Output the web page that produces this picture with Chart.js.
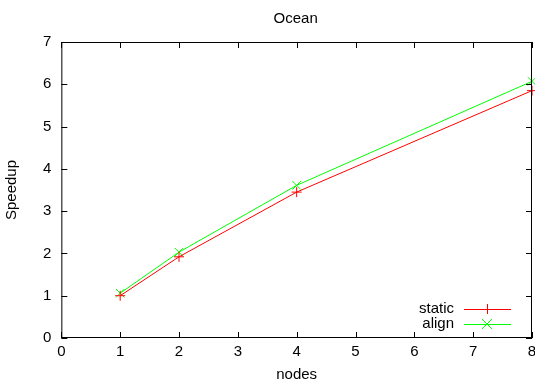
<!DOCTYPE html>
<html>
<head>
<meta charset="utf-8">
<style>
  html, body { margin: 0; padding: 0; background: #fff; }
  #wrap { width: 535px; height: 387px; }
</style>
<script src="https://cdn.jsdelivr.net/npm/chart.js@4"></script>
</head>
<body>
<div id="wrap"><canvas id="chart" width="535" height="387"></canvas></div>
<script>
const nodes = [1, 2, 4, 8];
const staticSpeedup = [1.0, 1.92, 3.45, 5.85];
const alignSpeedup = [1.06, 2.03, 3.61, 6.07];
const xTicks = [0, 1, 2, 3, 4, 5, 6, 7, 8];
const yTicks = [0, 1, 2, 3, 4, 5, 6, 7];
const chartTitle = "Ocean";

const FONT = "'Liberation Sans', Arial, sans-serif";
const FS = 15;

// gnuplot style frame, mirrored inward ticks, x labels, title and the key
const gnuplotFrame = {
    id: "gnuplotFrame",
    afterDraw(chart) {
        const { ctx, chartArea: a, scales } = chart;
        ctx.save();
        ctx.strokeStyle = "#000";
        ctx.lineWidth = 1;
        ctx.strokeRect(a.left + 0.5, a.top + 0.5, a.right - a.left - 1, a.bottom - a.top - 1);
        ctx.beginPath();
        xTicks.forEach((v) => {
            const x = Math.round(scales.x.getPixelForValue(v)) + 0.5;
            ctx.moveTo(x, a.bottom); ctx.lineTo(x, a.bottom - 6);
            ctx.moveTo(x, a.top); ctx.lineTo(x, a.top + 6);
        });
        yTicks.forEach((v) => {
            const y = Math.round(scales.y.getPixelForValue(v)) + 0.5;
            ctx.moveTo(a.left, y); ctx.lineTo(a.left + 6, y);
            ctx.moveTo(a.right, y); ctx.lineTo(a.right - 6, y);
        });
        ctx.stroke();

        ctx.font = FS + "px " + FONT;
        ctx.fillStyle = "#000";
        ctx.textAlign = "center";
        ctx.textBaseline = "middle";
        xTicks.forEach((v) => {
            ctx.fillText(String(v), scales.x.getPixelForValue(v), a.bottom + 14);
        });
        ctx.fillText(chartTitle, (a.left + a.right) / 2 - 1, 19);

        // key, bottom right
        ctx.textAlign = "right";
        chart.data.datasets.forEach((ds, i) => {
            const y = a.bottom - 29 + i * 15;
            const x0 = a.right - 68;
            const x1 = a.right - 21;
            ctx.fillStyle = "#000";
            ctx.fillText(ds.label, a.right - 78, y);
            ctx.strokeStyle = ds.borderColor;
            ctx.beginPath();
            ctx.moveTo(x0, y + 0.5); ctx.lineTo(x1, y + 0.5);
            ctx.stroke();
            const cx = a.right - 45;
            ctx.beginPath();
            if (ds.pointStyle === "cross") {
                ctx.moveTo(cx - 5, y + 0.5); ctx.lineTo(cx + 5, y + 0.5);
                ctx.moveTo(cx + 0.5, y - 5); ctx.lineTo(cx + 0.5, y + 5);
            } else {
                ctx.moveTo(cx - 5, y - 5); ctx.lineTo(cx + 5, y + 5);
                ctx.moveTo(cx - 5, y + 5); ctx.lineTo(cx + 5, y - 5);
            }
            ctx.stroke();
        });
        ctx.restore();
    },
};

const ctx = document.getElementById("chart");
new Chart(ctx, {
    type: "line",
    data: {
        datasets: [
            {
                label: "static",
                data: nodes.map((n, i) => ({ x: n, y: staticSpeedup[i] })),
                borderColor: "#ff0000",
                backgroundColor: "#ff0000",
                borderWidth: 1,
                pointStyle: "cross",
                pointRadius: 5,
                pointBorderWidth: 1,
                fill: false,
                tension: 0,
                clip: false,
            },
            {
                label: "align",
                data: nodes.map((n, i) => ({ x: n, y: alignSpeedup[i] })),
                borderColor: "#00ff00",
                backgroundColor: "#00ff00",
                borderWidth: 1,
                pointStyle: "crossRot",
                pointRadius: 6,
                pointBorderWidth: 1,
                fill: false,
                tension: 0,
                clip: false,
            },
        ],
    },
    plugins: [gnuplotFrame],
    options: {
        responsive: false,
        animation: false,
        layout: { autoPadding: false, padding: { top: 42, right: 3, bottom: 3, left: 3 } },
        scales: {
            x: {
                type: "linear",
                min: 0,
                max: 8,
                afterBuildTicks: (axis) => { axis.ticks = xTicks.map((v) => ({ value: v })); },
                grid: { display: false, drawTicks: false },
                border: { display: false },
                ticks: { display: false },
                title: { display: true, text: "nodes", color: "#000", font: { size: FS, family: FONT }, padding: { top: 28, bottom: 0 } },
            },
            y: {
                min: 0,
                max: 7,
                afterBuildTicks: (axis) => { axis.ticks = yTicks.map((v) => ({ value: v })); },
                afterFit: (axis) => { axis.paddingTop = 0; },
                grid: { display: false, drawTicks: false },
                border: { display: false },
                ticks: { color: "#000", font: { size: FS, family: FONT }, padding: 10 },
                title: { display: true, text: "Speedup", color: "#000", font: { size: FS, family: FONT }, padding: { top: 0, bottom: 12 } },
            },
        },
        plugins: {
            legend: { display: false },
            tooltip: { enabled: false },
            title: { display: false },
        },
    },
});
</script>
</body>
</html>
